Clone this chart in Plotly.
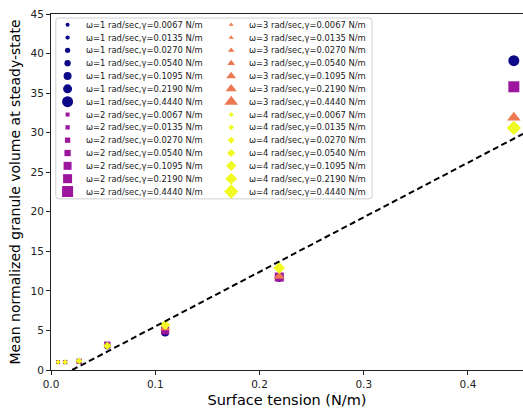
import plotly.graph_objects as go

# ---- data ----
gamma = [0.0067, 0.0135, 0.0270, 0.0540, 0.1095, 0.2190, 0.4440]
omegas = [1, 2, 3, 4]
volume = {
    1: [1.0, 1.0, 1.1, 3.0, 4.75, 11.7, 39.1],
    2: [1.0, 1.0, 1.1, 3.2, 5.0, 11.75, 35.8],
    3: [1.0, 1.0, 1.1, 3.05, 5.3, 11.85, 31.9],
    4: [1.0, 1.0, 1.15, 3.05, 5.7, 12.9, 30.6],
}
fit_x = [0.0203, 0.4528]
fit_y = [0.0, 29.85]

# ---- styles ----
colors = {1: "#0d0887", 2: "#9c179e", 3: "#ed7953", 4: "#f0f921"}
symbols = {1: "circle", 2: "square", 3: "triangle-up", 4: "diamond"}
sym_scale = {1: 1.0, 2: 1.0, 3: 1.08, 4: 1.0}
sizes = [4, 4.3, 5.3, 6.3, 8, 9, 11]
FONT = "DejaVu Sans"

W, H = 523, 409
L, R, T, B = 50.7, 0, 14.3, 39

fig = go.Figure()

for w in omegas:
    fig.add_trace(go.Scatter(
        x=gamma, y=volume[w], mode="markers", showlegend=False,
        marker=dict(color=colors[w], symbol=symbols[w], opacity=1,
                    size=[s * sym_scale[w] for s in sizes], line=dict(width=0)),
        hoverinfo="x+y",
    ))

fig.add_trace(go.Scatter(
    x=fit_x, y=fit_y, mode="lines", showlegend=False,
    line=dict(color="black", width=2, dash="6px,3.5px"),
))

# ---- manual legend on a pixel-coordinate overlay axis ----
row0, dy = 25.0, 12.82
col_marker_x = [67.3, 231.0]
col_text_x = [83.3, 246.7]
annotations = []
for ci, pair in enumerate([(1, 2), (3, 4)]):
    for gi, w in enumerate(pair):
        ys = [row0 + (gi * len(gamma) + k) * dy for k in range(len(gamma))]
        fig.add_trace(go.Scatter(
            x=[col_marker_x[ci]] * len(gamma), y=ys, xaxis="x2", yaxis="y2",
            mode="markers", showlegend=False, hoverinfo="skip",
            marker=dict(color=colors[w], symbol=symbols[w], opacity=1,
                        size=[s * sym_scale[w] for s in sizes], line=dict(width=0)),
        ))
        for k, g in enumerate(gamma):
            annotations.append(dict(
                x=col_text_x[ci], y=ys[k], xref="x2", yref="y2",
                text=f"ω={w} rad/sec,γ={g:.4f} N/m", showarrow=False,
                xanchor="left", yanchor="middle",
                font=dict(family=FONT, size=8.4, color="#1a1a1a"),
            ))

# legend box (rounded)
x0, x1, y0, y1, r = 55.5, 372.0, 18.3, 199.0, 3
path = (f"M {x0+r},{y0} L {x1-r},{y0} Q {x1},{y0} {x1},{y0+r} "
        f"L {x1},{y1-r} Q {x1},{y1} {x1-r},{y1} L {x0+r},{y1} "
        f"Q {x0},{y1} {x0},{y1-r} L {x0},{y0+r} Q {x0},{y0} {x0+r},{y0} Z")

fig.update_layout(
    width=W, height=H,
    margin=dict(l=L, r=R, t=T, b=B),
    paper_bgcolor="white", plot_bgcolor="white",
    font=dict(family=FONT, color="black"),
    annotations=annotations,
    shapes=[dict(type="path", path=path, xref="x2", yref="y2",
                 line=dict(color="#d0d0d0", width=1), fillcolor="white",
                 layer="below")],
    xaxis=dict(
        range=[0, 0.4528], tickvals=[0, 0.1, 0.2, 0.3, 0.4], tickformat=".1f",
        showgrid=False, zeroline=False, showline=True, linecolor="#222",
        linewidth=1, mirror=True, ticks="outside", ticklen=4, tickcolor="#222",
        tickfont=dict(size=10.5, color="#222"),
        title=dict(text="Surface tension (N/m)", font=dict(size=14.5), standoff=6),
    ),
    yaxis=dict(
        range=[0, 45], tickvals=list(range(0, 46, 5)),
        showgrid=False, zeroline=False, showline=True, linecolor="#222",
        linewidth=1, mirror=False, ticks="outside", ticklen=4, tickcolor="#222",
        tickfont=dict(size=10.5, color="#222"),
        title=dict(text="Mean normalized granule volume at steady-state",
                   font=dict(size=14), standoff=6),
    ),
    xaxis2=dict(overlaying="x", anchor="y2", range=[L, W - R], visible=False,
                fixedrange=True),
    yaxis2=dict(overlaying="y", anchor="x2", range=[H - B, T], visible=False,
                fixedrange=True),
)

fig.write_html("out.html", config={"displayModeBar": False},
               post_script="document.body.style.margin='0';")
